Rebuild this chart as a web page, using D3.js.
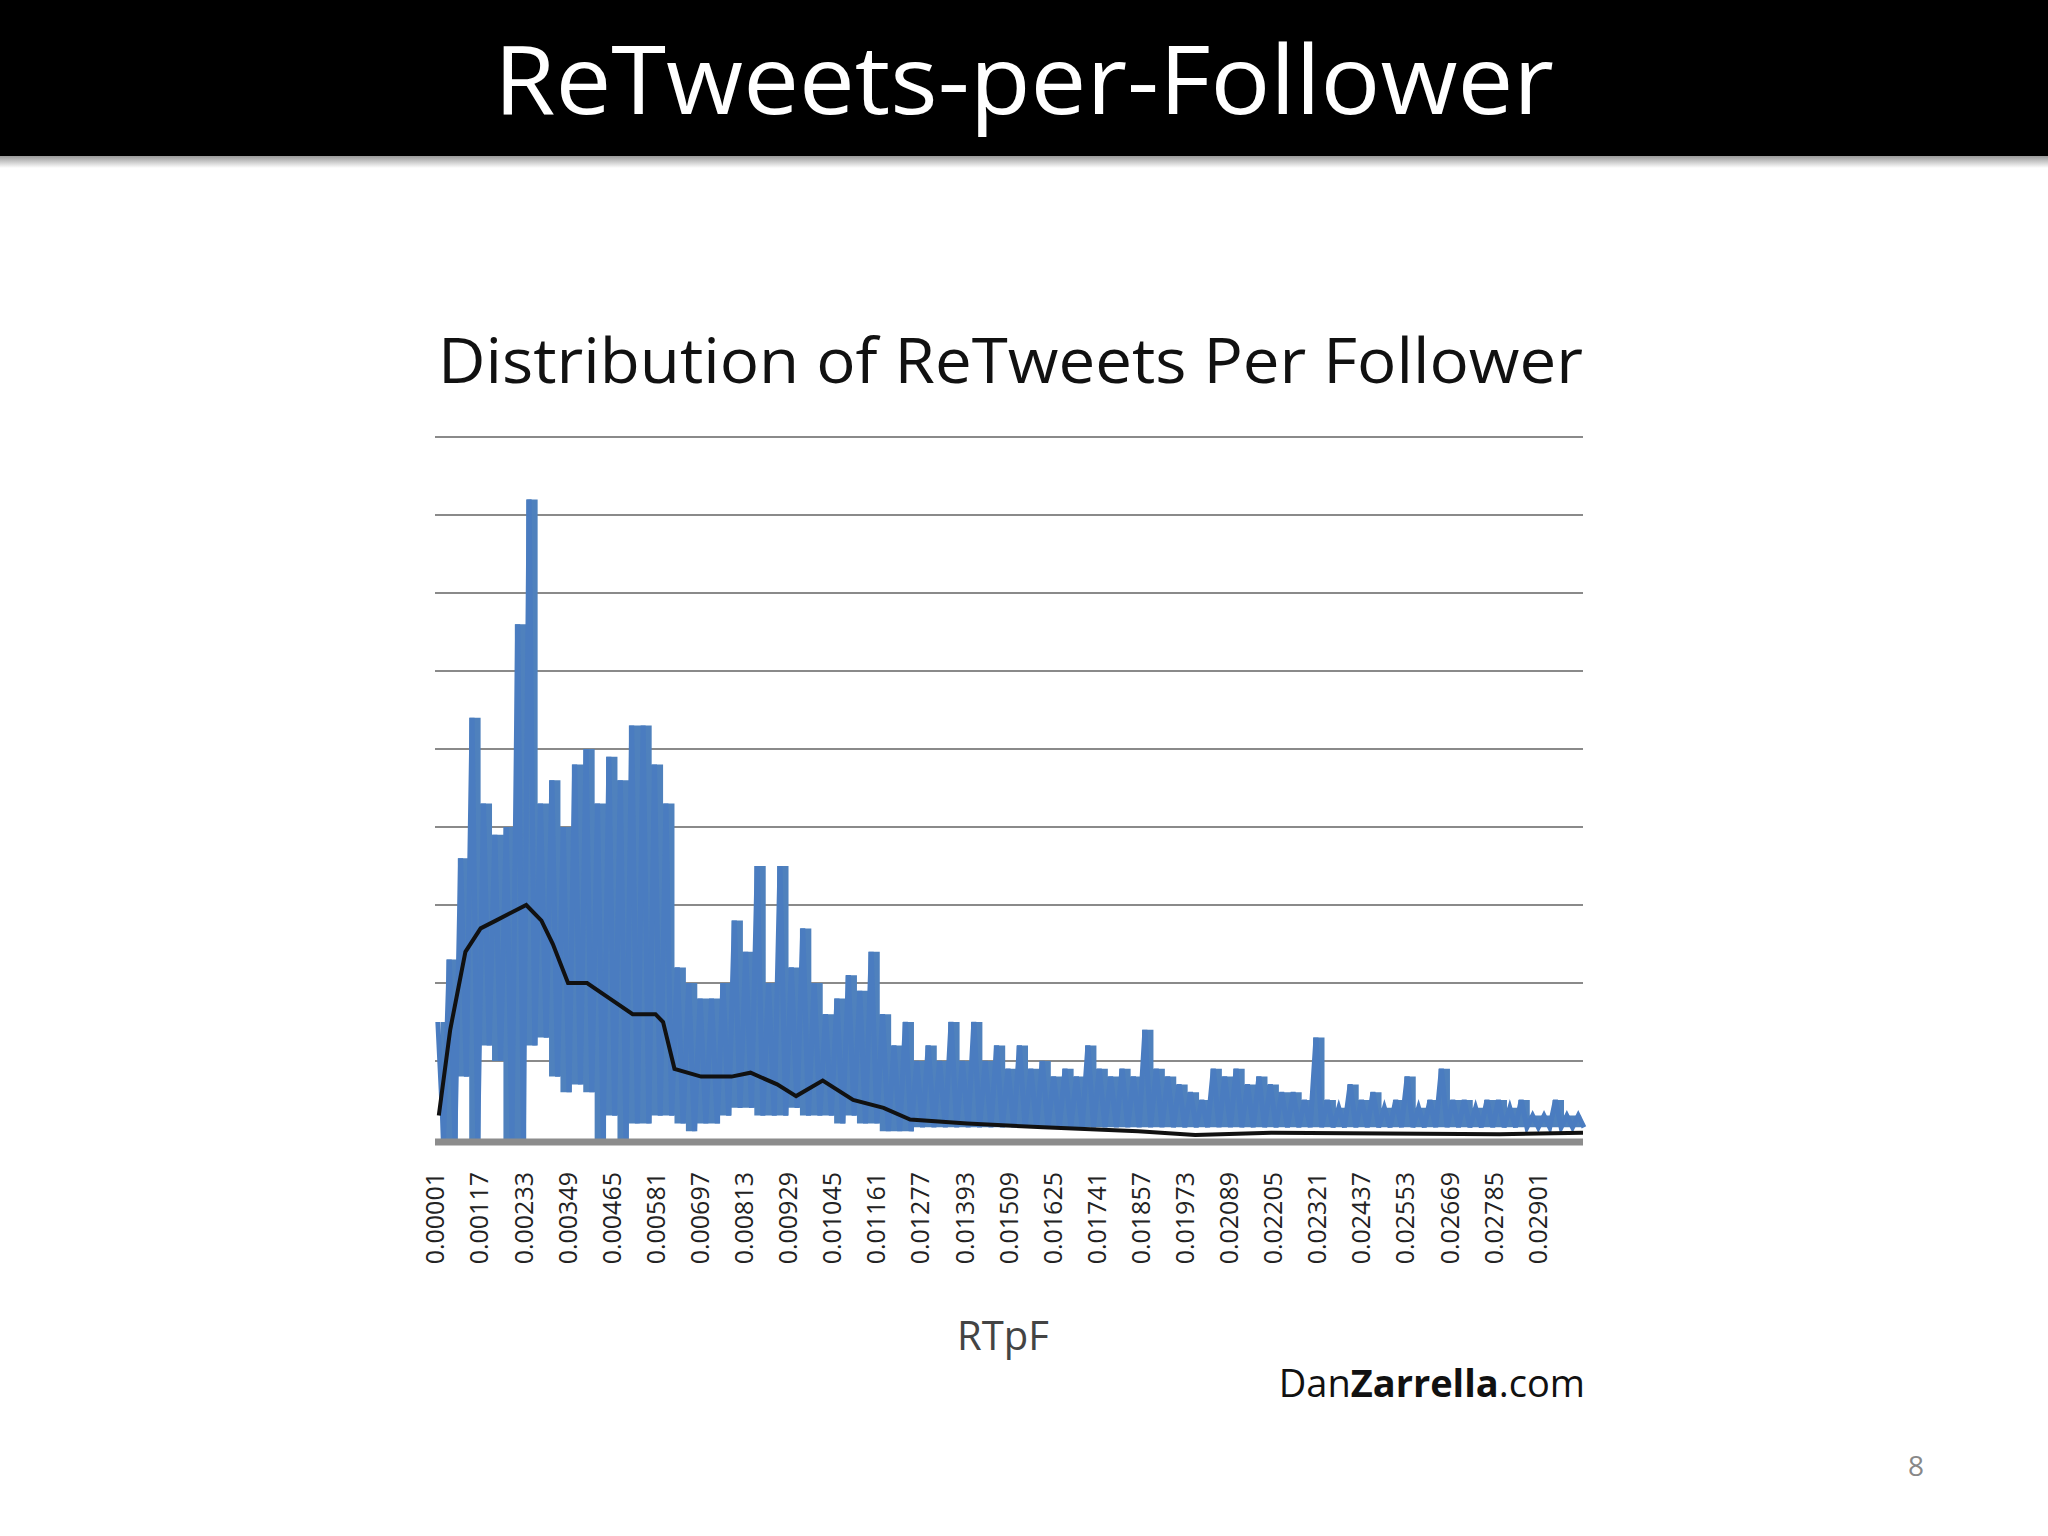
<!DOCTYPE html>
<html>
<head>
<script src="https://cdn.jsdelivr.net/npm/d3@7"></script>
<style>
body { margin: 0; background: #fff; }
svg { display: block; }
</style>
</head>
<body>
<script>
// bins of 0.0003 RTpF, heights in gridline units (9 gridlines above baseline)
var binWidth = 0.0003;
var binHigh = [1.5,2.3,3.6,5.4,4.3,3.9,4.0,6.6,8.2,4.3,
  4.6,4.0,4.8,5.0,4.3,4.9,4.6,5.3,5.3,4.8,
  4.3,2.2,2.0,1.8,1.8,2.0,2.8,2.4,3.5,2.0,
  3.5,2.2,2.7,2.0,1.6,1.8,2.1,1.9,2.4,1.6,
  1.2,1.5,1.0,1.2,1.0,1.5,1.0,1.5,1.0,1.2,
  0.9,1.2,0.9,1.0,0.8,0.9,0.8,1.2,0.9,0.8,
  0.9,0.8,1.4,0.9,0.8,0.7,0.6,0.5,0.9,0.8,
  0.9,0.7,0.8,0.7,0.6,0.6,0.5,1.3,0.5,0.4,
  0.7,0.5,0.6,0.4,0.5,0.8,0.4,0.5,0.9,0.5,
  0.5,0.4,0.5,0.5,0.4,0.5,0.3,0.3,0.5,0.3,0.3];
var binLow = [0,0,0.8,0,1.2,1.0,0,0,1.2,1.3,
  0.8,0.6,0.7,0.6,0,0.3,0,0.2,0.2,0.3,
  0.3,0.2,0.1,0.2,0.2,0.3,0.4,0.4,0.3,0.3,
  0.3,0.4,0.3,0.3,0.3,0.2,0.3,0.2,0.2,0.1,
  0.1,0.1,0.15,0.15,0.15,0.15,0.15,0.15,0.15,0.15,
  0.15,0.15,0.15,0.15,0.15,0.15,0.15,0.15,0.15,0.15,
  0.15,0.15,0.15,0.15,0.15,0.15,0.15,0.15,0.15,0.15,
  0.15,0.15,0.15,0.15,0.15,0.15,0.15,0.15,0.15,0.15,
  0.15,0.15,0.15,0.15,0.15,0.15,0.15,0.15,0.15,0.15,
  0.15,0.15,0.15,0.15,0.15,0.15,0.15,0.15,0.15,0.15,0.15];
// moving average (black line)
var avgX = [0.0001,0.0004,0.0008,0.0012,0.0016,0.002,0.0024,0.0028,0.0031,0.0035,0.004,0.0046,0.0052,0.0058,0.006,0.0063,0.007,0.0078,0.0083,0.009,0.0095,0.0102,0.011,0.0118,0.0125,0.014,0.016,0.0185,0.02,0.022,0.025,0.028,0.0302];
var avgY = [0.3,1.4,2.4,2.7,2.8,2.9,3.0,2.8,2.5,2.0,2.0,1.8,1.6,1.6,1.5,0.9,0.8,0.8,0.85,0.7,0.55,0.75,0.5,0.4,0.25,0.2,0.15,0.1,0.05,0.08,0.07,0.06,0.08];
var tickLabels = ["0.00001","0.00117","0.00233","0.00349","0.00465","0.00581","0.00697","0.00813","0.00929","0.01045","0.01161","0.01277","0.01393","0.01509","0.01625","0.01741","0.01857","0.01973","0.02089","0.02205","0.02321","0.02437","0.02553","0.02669","0.02785","0.02901"];

var W = 2048, H = 1536;
var svg = d3.select("body").append("svg").attr("width", W).attr("height", H);

// header with shadow
var defs = svg.append("defs");
var grad = defs.append("linearGradient").attr("id", "shadow").attr("x1", 0).attr("x2", 0).attr("y1", 0).attr("y2", 1);
grad.append("stop").attr("offset", 0).attr("stop-color", "#888");
grad.append("stop").attr("offset", 1).attr("stop-color", "#fff");
svg.append("rect").attr("x", 0).attr("y", 154).attr("width", W).attr("height", 14).attr("fill", "url(#shadow)");
svg.append("rect").attr("x", 0).attr("y", 0).attr("width", W).attr("height", 156).attr("fill", "#000");
svg.append("text").attr("x", 1024).attr("y", 114).attr("text-anchor", "middle")
  .attr("font-family", "Open Sans, sans-serif").attr("font-size", 96).attr("fill", "#fff")
  .attr("textLength", 1060).attr("lengthAdjust", "spacingAndGlyphs")
  .text("ReTweets-per-Follower");

var plotL = 435, plotR = 1583, plotT = 437, plotB = 1139;
var x = d3.scaleLinear().domain([0, 0.0302]).range([plotL, plotR]);
var y = d3.scaleLinear().domain([0, 9]).range([plotB, plotT]);

svg.append("text").attr("x", 438).attr("y", 383)
  .attr("font-family", "Open Sans, sans-serif").attr("font-size", 62).attr("fill", "#111")
  .attr("textLength", 1145).attr("lengthAdjust", "spacingAndGlyphs")
  .text("Distribution of ReTweets Per Follower");

// gridlines
svg.append("g").selectAll("line").data(d3.range(1, 10)).enter().append("line")
  .attr("x1", plotL).attr("x2", plotR)
  .attr("y1", function(d) { return y(d); }).attr("y2", function(d) { return y(d); })
  .attr("stroke", "#8a8a8a").attr("stroke-width", 2);

var bins = binHigh.map(function(h, i) { return { x: i * binWidth, hi: h, lo: binLow[i] }; });

// blue band
svg.append("path").datum(bins)
  .attr("d", d3.area().x(function(d) { return x(d.x + binWidth / 2); })
    .y0(function(d) { return y(d.lo); }).y1(function(d) { return y(d.hi); })
    .curve(d3.curveStep))
  .attr("fill", "#4f81bd");

// jagged outline
var zig = [];
bins.forEach(function(d) {
  zig.push([d.x + binWidth * 0.25, d.hi]);
  zig.push([d.x + binWidth * 0.75, d.lo]);
});
svg.append("path").datum(zig)
  .attr("d", d3.line().x(function(d) { return x(d[0]); }).y(function(d) { return y(d[1]); }))
  .attr("fill", "none").attr("stroke", "#4a7cc0").attr("stroke-width", 5);

// average line
svg.append("path").datum(avgX.map(function(v, i) { return [v, avgY[i]]; }))
  .attr("d", d3.line().x(function(d) { return x(d[0]); }).y(function(d) { return y(d[1]); }))
  .attr("fill", "none").attr("stroke", "#111").attr("stroke-width", 4);

// baseline
svg.append("line").attr("x1", plotL).attr("x2", plotR).attr("y1", plotB + 3).attr("y2", plotB + 3)
  .attr("stroke", "#8c8c8c").attr("stroke-width", 7);

// tick labels
svg.append("g").selectAll("text").data(tickLabels).enter().append("text")
  .attr("transform", function(d) { return "translate(" + (x(+d) + 9) + ",1172) rotate(-90)"; })
  .attr("text-anchor", "end")
  .attr("font-family", "Open Sans, sans-serif").attr("font-size", 25).attr("fill", "#222")
  .text(function(d) { return d; });

svg.append("text").attr("x", 1003).attr("y", 1350).attr("text-anchor", "middle")
  .attr("font-family", "Open Sans, sans-serif").attr("font-size", 40).attr("fill", "#444")
  .text("RTpF");

var credit = svg.append("text").attr("x", 1585).attr("y", 1397).attr("text-anchor", "end")
  .attr("font-family", "Open Sans, sans-serif").attr("font-size", 38).attr("fill", "#111");
credit.append("tspan").text("Dan");
credit.append("tspan").attr("font-weight", "bold").text("Zarrella");
credit.append("tspan").text(".com");

svg.append("text").attr("x", 1916).attr("y", 1476).attr("text-anchor", "middle")
  .attr("font-family", "Open Sans, sans-serif").attr("font-size", 28).attr("fill", "#888")
  .text("8");
</script>
</body>
</html>
